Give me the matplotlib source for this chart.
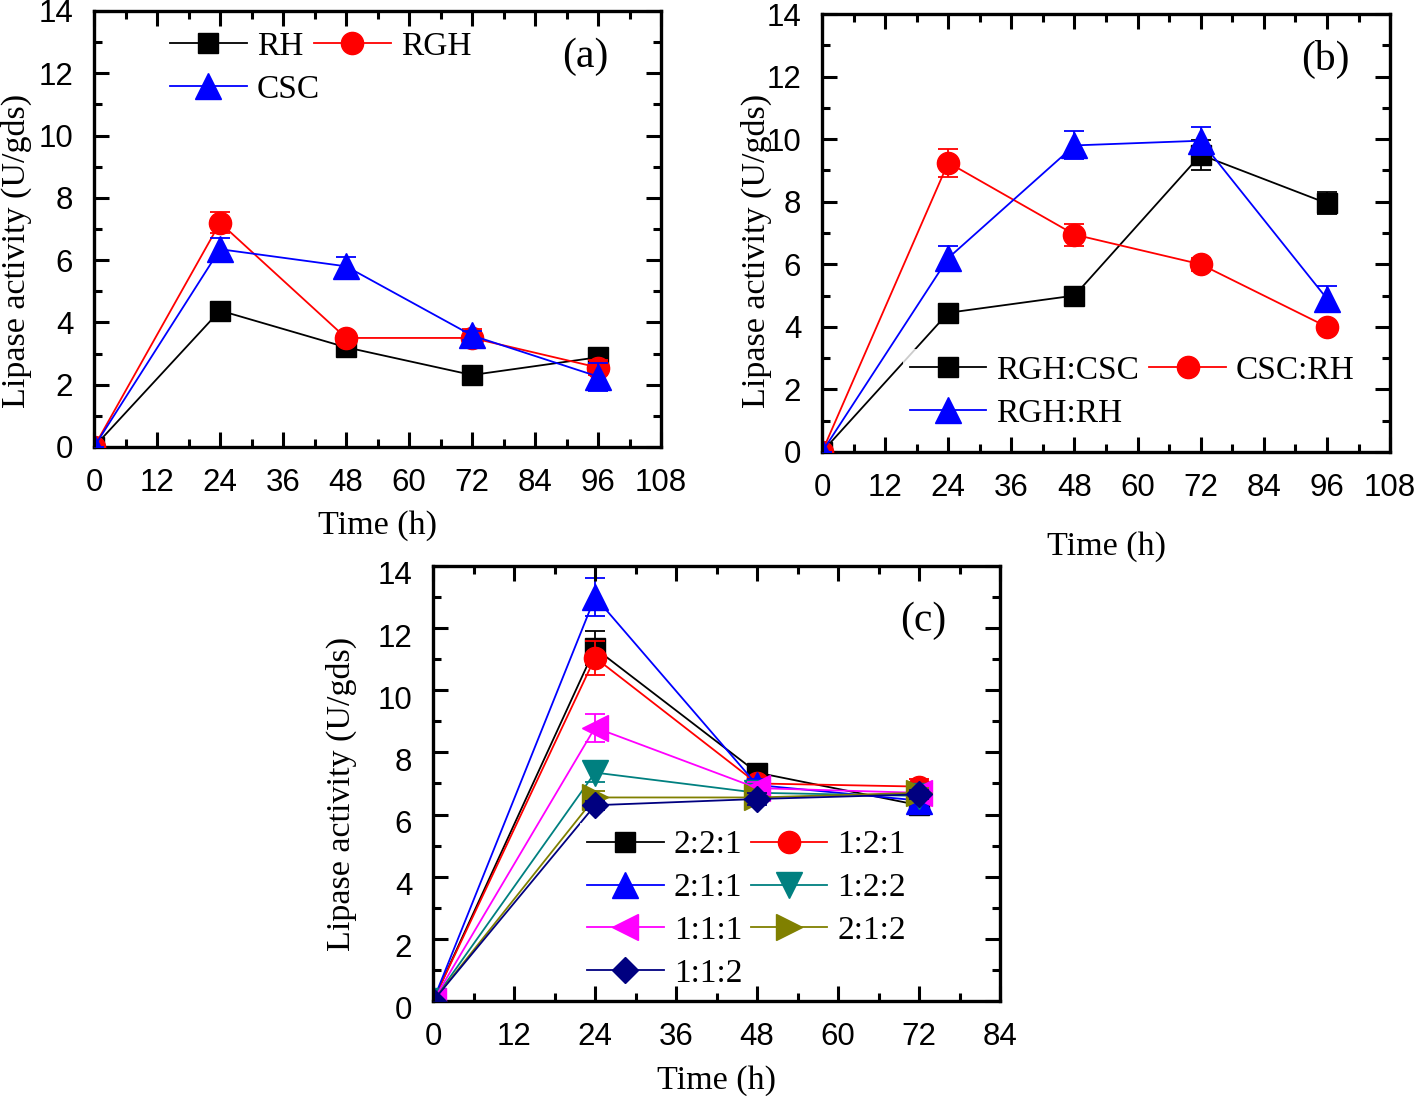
import numpy as np
import matplotlib
matplotlib.use("Agg")
import matplotlib.pyplot as plt
from matplotlib.ticker import MultipleLocator
from matplotlib.transforms import ScaledTranslation

SANS = "Liberation Sans"
SERIF = "Liberation Serif"

# ---- data ----
t_ab = [0, 24, 48, 72, 96]
t_c = [0, 24, 48, 72]

# panel (a)
rh = [0, 4.38, 3.2, 2.31, 2.88]
rh_err = [0, 0.15, 0.1, 0.1, 0.15]
rgh = [0, 7.2, 3.5, 3.5, 2.55]
rgh_err = [0, 0.33, 0.12, 0.3, 0.25]
csc = [0, 6.35, 5.8, 3.58, 2.26]
csc_err = [0, 0.35, 0.3, 0.15, 0.45]

# panel (b)
rgh_csc = [0, 4.45, 5.0, 9.5, 7.95]
rgh_csc_err = [0, 0.15, 0.1, 0.48, 0.35]
csc_rh = [0, 9.25, 6.95, 6.0, 4.0]
csc_rh_err = [0, 0.45, 0.35, 0.2, 0.1]
rgh_rh = [0, 6.2, 9.8, 9.95, 4.9]
rgh_rh_err = [0, 0.4, 0.45, 0.45, 0.4]

# panel (c)
c_labels = ["2:2:1", "1:2:1", "2:1:1", "1:2:2", "1:1:1", "2:1:2", "1:1:2"]
c_vals = [
    [0, 11.35, 7.35, 6.3],
    [0, 11.05, 7.0, 6.9],
    [0, 13.0, 6.95, 6.45],
    [0, 7.35, 6.7, 6.6],
    [0, 8.8, 6.85, 6.7],
    [0, 6.55, 6.55, 6.7],
    [0, 6.3, 6.5, 6.65],
]
c_errs = [
    [0, 0.55, 0.25, 0.2],
    [0, 0.55, 0.2, 0.25],
    [0, 0.6, 0.2, 0.2],
    [0, 0.3, 0.15, 0.15],
    [0, 0.45, 0.2, 0.15],
    [0, 0.2, 0.15, 0.15],
    [0, 0.15, 0.2, 0.15],
]
c_colors = ["black", "#FF0000", "#0000FF", "#008080", "#FF00FF", "#808000", "#000080"]
c_markers = ["s", "o", "^", "v", "<", ">", "D"]

MS = {"s": 15, "o": 16, "^": 19, "v": 19, "<": 19, ">": 19, "D": 13.5}


def series(ax, x, y, err, color, marker, label):
    ax.errorbar(x, y, yerr=err, fmt="none", ecolor=color, elinewidth=1.3,
                capsize=7, capthick=1.3, zorder=3)
    ln, = ax.plot(x, y, color=color, lw=1.3, marker=marker, ms=MS[marker],
                  mec=color, mfc=color, label=label, zorder=3)
    return ln


def style(ax, xmax, tag, tag_xy, ylab_xy, xlab_xy):
    ax.set_xlim(0, xmax)
    ax.set_ylim(0, 14)
    ax.xaxis.set_major_locator(MultipleLocator(12))
    ax.xaxis.set_minor_locator(MultipleLocator(6))
    ax.yaxis.set_major_locator(MultipleLocator(2))
    ax.yaxis.set_minor_locator(MultipleLocator(1))
    ax.tick_params(which="both", direction="in", top=True, right=True, width=2.2)
    ax.tick_params(which="major", length=11)
    ax.tick_params(which="minor", length=5.5)
    ax.tick_params(axis="y", which="major", pad=15)
    ax.tick_params(axis="x", which="major", pad=15)
    for lab in ax.get_xticklabels() + ax.get_yticklabels():
        lab.set_fontfamily(SANS)
        lab.set_fontsize(22.5)
    for sp in ax.spines.values():
        sp.set_linewidth(2.4)
    ax.set_ylabel("Lipase activity (U/gds)", fontfamily=SERIF, fontsize=24.5)
    ax.set_xlabel("Time (h)", fontfamily=SERIF, fontsize=24.5)
    ax.yaxis.set_label_coords(*ylab_xy)
    ax.xaxis.set_label_coords(*xlab_xy)
    ax.xaxis.set_zorder(6)  # keep ticks above the legend box
    ax.text(tag_xy[0], tag_xy[1], tag, transform=ax.transAxes, fontfamily=SERIF,
            fontsize=30, ha="center", va="center")


fig = plt.figure(figsize=(14.18, 10.96), dpi=100)
fig.patch.set_facecolor("white")

ax_a = fig.add_axes([0.0663, 0.5922, 0.3999, 0.3978])
ax_b = fig.add_axes([0.5797, 0.5876, 0.4006, 0.3996])
ax_c = fig.add_axes([0.3054, 0.0867, 0.3999, 0.3969])

leg_kw = dict(prop={"family": SERIF, "size": 24}, handlelength=2.3,
              handletextpad=0.3, labelspacing=0.37, borderaxespad=0, loc="upper left")

# (a)
h1 = series(ax_a, t_ab, rh, rh_err, "black", "s", "RH")
h2 = series(ax_a, t_ab, rgh, rgh_err, "#FF0000", "o", "RGH")
h3 = series(ax_a, t_ab, csc, csc_err, "#0000FF", "^", "CSC")
style(ax_a, 108, "(a)", (0.866, 0.895), (-0.109, 0.45), (0.5, -0.146))
leg1 = ax_a.legend(handles=[h1, h2], ncol=2, columnspacing=0.33, frameon=False,
                   borderpad=0, bbox_to_anchor=(0.134, 0.954), **leg_kw)
ax_a.add_artist(leg1)
ax_a.legend(handles=[h3], frameon=False, borderpad=0,
            bbox_to_anchor=(0.134, 0.854), **leg_kw)

# (b)
g1 = series(ax_b, t_ab, rgh_csc, rgh_csc_err, "black", "s", "RGH:CSC")
g2 = series(ax_b, t_ab, csc_rh, csc_rh_err, "#FF0000", "o", "CSC:RH")
g3 = series(ax_b, t_ab, rgh_rh, rgh_rh_err, "#0000FF", "^", "RGH:RH")
style(ax_b, 108, "(b)", (0.886, 0.897), (-0.088, 0.458), (0.5, -0.181))
lb = ax_b.legend(handles=[g1, g3, g2], ncol=2, columnspacing=0.3, frameon=True,
                 borderpad=0.2, fancybox=False, bbox_to_anchor=(0.1425, 0.236), **leg_kw)
lb.get_frame().set_facecolor("white")
lb.get_frame().set_edgecolor("none")

# (c)
hc = []
for lab, vals, errs, col, mk in zip(c_labels, c_vals, c_errs, c_colors, c_markers):
    hc.append(series(ax_c, t_c, vals, errs, col, mk, lab))
style(ax_c, 84, "(c)", (0.865, 0.875), (-0.134, 0.477), (0.5, -0.147))
# y tick labels of panel (c) sit a little below their ticks in the original
shift = ScaledTranslation(0, -7 / 100, fig.dpi_scale_trans)
for lab in ax_c.get_yticklabels():
    lab.set_transform(lab.get_transform() + shift)
order = [0, 2, 4, 6, 1, 3, 5]  # fill legend row by row
lc = ax_c.legend(handles=[hc[i] for i in order], ncol=2, columnspacing=0.25, frameon=True,
                 borderpad=0.2, fancybox=False, bbox_to_anchor=(0.26, 0.4087), **leg_kw)
lc.get_frame().set_facecolor("white")
lc.get_frame().set_edgecolor("none")

fig.savefig("out.png", dpi=100)
